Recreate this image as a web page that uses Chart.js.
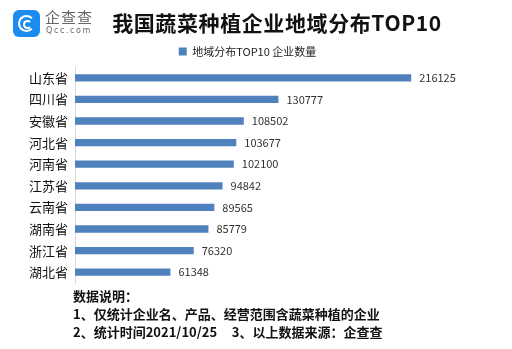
<!DOCTYPE html>
<html>
<head>
<meta charset="utf-8">
<script src="https://cdn.jsdelivr.net/npm/chart.js@4"></script>
<style>
  body { margin: 0; background: #fff; font-family: "Noto Sans CJK SC", sans-serif; }
  #wrap { position: relative; width: 512px; height: 349px; overflow: hidden; }
  #c { position: absolute; left: 0; top: 0; }
  .logo { position: absolute; left: 13px; top: 10px; width: 27px; height: 27px; border-radius: 6px; background: #1a8cf0; }
  .logo .o { position: absolute; left: 5px; top: 5px; width: 13px; height: 13px; border: 2.5px solid #fff; border-radius: 50%; border-right-color: transparent; }
  .logo .i { position: absolute; left: 10px; top: 10px; width: 5px; height: 5px; border: 2px solid #fff; border-radius: 50%; border-right-color: transparent; }
  .brand { position: absolute; left: 45px; top: 6px; font-size: 15px; color: #666; letter-spacing: 1px; }
  .brand2 { position: absolute; left: 46px; top: 26px; font-size: 8px; color: #666; letter-spacing: 1.6px; font-family: "DejaVu Sans", sans-serif; }
  .title { position: absolute; left: 0; width: 554px; top: 7px; text-align: center; font-size: 21px; font-weight: bold; color: #111; letter-spacing: 0.6px; }
  .notes { position: absolute; left: 73px; top: 287px; font-size: 13px; font-weight: bold; color: #111; line-height: 18px; white-space: pre; }
</style>
</head>
<body>
<div id="wrap">
  <canvas id="c" width="512" height="349"></canvas>
  <div class="logo"><div class="o"></div><div class="i"></div></div>
  <div class="brand">企查查</div>
  <div class="brand2">Qcc.com</div>
  <div class="title">我国蔬菜种植企业地域分布TOP10</div>
  <div class="notes">数据说明：
1、仅统计企业名、产品、经营范围含蔬菜种植的企业
2、统计时间2021/10/25     3、以上数据来源：企查查</div>
</div>
<script>
const provinces = ['山东省', '四川省', '安徽省', '河北省', '河南省', '江苏省', '云南省', '湖南省', '浙江省', '湖北省'];
const companyCounts = [216125, 130777, 108502, 103677, 102100, 94842, 89565, 85779, 76320, 61348];
const seriesName = '地域分布TOP10 企业数量';

// numbers at the end of each bar
const valueLabels = {
  id: 'valueLabels',
  afterDatasetsDraw(chart) {
    const ctx = chart.ctx;
    const meta = chart.getDatasetMeta(0);
    ctx.save();
    ctx.font = '11px "Noto Sans CJK SC", sans-serif';
    ctx.fillStyle = '#333';
    ctx.textBaseline = 'middle';
    meta.data.forEach((bar, i) => {
      ctx.fillText(companyCounts[i], bar.x + 8, bar.y);
    });
    ctx.restore();
  }
};

new Chart(document.getElementById('c'), {
  type: 'bar',
  data: {
    labels: provinces,
    datasets: [{
      label: seriesName,
      data: companyCounts,
      backgroundColor: '#4f81bd',
      barPercentage: 0.8,
      categoryPercentage: 0.42
    }]
  },
  options: {
    indexAxis: 'y',
    responsive: false,
    animation: false,
    layout: { padding: { top: 40, right: 17, bottom: 66, left: 0 } },
    plugins: {
      legend: {
        labels: {
          boxWidth: 8,
          boxHeight: 8,
          color: '#222',
          padding: 6,
          font: { size: 11, family: '"Noto Sans CJK SC", sans-serif' }
        }
      },
      tooltip: { enabled: false }
    },
    scales: {
      x: { display: false, min: 0, max: 270000 },
      y: {
        afterFit(scale) { scale.width = 75; },
        grid: { display: false, drawTicks: false },
        border: { color: '#d9d9d9' },
        ticks: {
          padding: 7,
          color: '#111',
          font: { size: 13, family: '"Noto Sans CJK SC", sans-serif' }
        }
      }
    }
  },
  plugins: [valueLabels]
});
</script>
</body>
</html>
